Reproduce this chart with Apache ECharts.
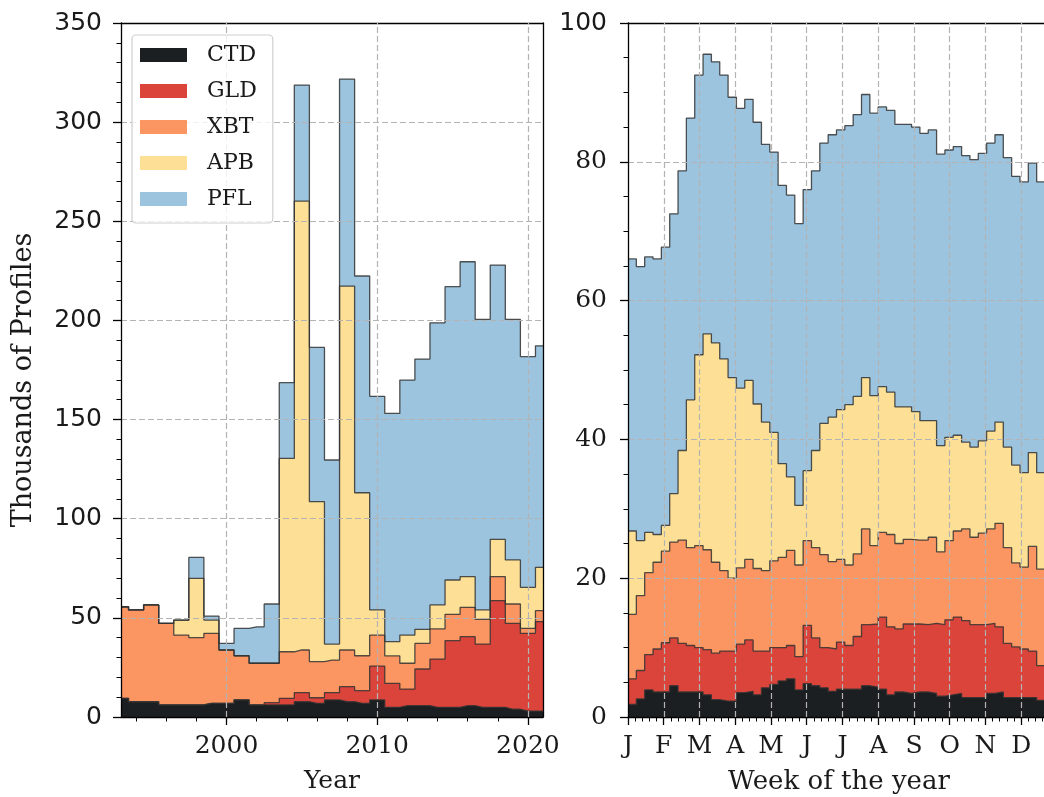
<!DOCTYPE html>
<html><head><meta charset="utf-8">
<script src="https://cdn.jsdelivr.net/npm/echarts@6/dist/echarts.min.js"></script>
<style>html,body{margin:0;padding:0;background:#fff}#c{width:1044px;height:797px}</style>
</head><body><div id="c"></div>
<script>
// ---------- data ----------
const seriesNames = ['CTD', 'GLD', 'XBT', 'APB', 'PFL'];

const years = [1993,1994,1995,1996,1997,1998,1999,2000,2001,2002,2003,2004,2005,2006,2007,2008,2009,2010,2011,2012,2013,2014,2015,2016,2017,2018,2019,2020,2021];
const yearCTD = [9.4,7.7,7.7,6.1,6.1,6.1,6.9,6.9,8.6,6.1,6.1,6.1,7.7,6.9,8.6,7.7,6.9,8.6,4.9,5.7,5.7,4.9,4.9,5.7,4.9,4.9,3.9,3.0,3.0];
const yearGLD = [0,0,0,0,0,0,0,0,0,0,1.1,3.3,4.6,2.8,3.7,7.6,6.4,17.1,12.1,8.4,18.5,24.3,33.6,34.8,31.9,53.8,43.3,39.2,45.1];
const yearXBT = [46.2,46.3,48.8,41.1,35.2,33.9,35.3,26.9,22.3,21.0,19.9,23.5,21.5,18.2,16.4,18.5,17.6,15.6,13.8,13.0,12.9,15.2,13.3,14.8,12.4,12.1,9.8,2.5,5.5];
const yearAPB = [0,0,0,0,7.6,29.9,6.7,0,0,0,0,97.5,226.4,80.7,8.1,183.5,82.2,12.7,7.2,14.2,7.1,12.1,17.3,15.5,4.8,18.8,22.2,20.7,21.9];
const yearPFL = [0,0,0,0,0,10.6,2.0,3.3,13.8,18.4,29.9,38.2,58.5,77.8,92.8,104.4,109.3,107.7,115.1,128.6,136.3,142.3,147.9,158.8,146.5,138.3,121.3,116.3,111.7];

// week-of-year bins (bin k covers week k .. k+1)
const weekCTD = [1.8,2.6,3.9,3.6,3.6,4.5,3.6,3.6,3.6,3.2,2.5,2.3,2.3,3.5,3.7,3.2,4.2,4.7,5.2,5.5,3.9,4.8,4.5,4.2,3.7,4.0,4.0,4.0,4.5,4.3,4.0,3.2,3.6,3.4,3.6,3.6,3.4,3.0,3.2,3.4,2.8,2.8,2.8,3.4,3.6,2.8,2.8,2.8,2.8,2.4];
const weekGLD = [3.7,4.1,5.1,6.2,7.1,6.9,7.0,6.7,6.4,6.5,6.7,7.2,7.2,7.0,7.4,6.3,5.3,5.3,4.8,4.8,4.8,8.4,6.9,5.8,6.1,6.8,6.3,7.6,8.8,9.1,10.4,9.8,9.1,10.0,9.8,9.7,10.1,10.3,10.8,11.0,11.1,10.5,10.5,10.1,9.4,7.8,7.3,7.0,6.7,5.0];
const weekXBT = [9.3,10.8,11.8,12.5,13.2,13.8,14.9,14.1,14.7,14.4,13.1,11.6,10.5,11.0,11.6,11.9,11.6,12.5,13.0,13.7,13.2,12.2,13.0,13.4,12.6,11.9,11.6,11.9,13.8,11.3,12.2,13.3,12.3,12.2,12.1,12.2,12.4,10.5,11.4,12.4,13.2,12.6,13.2,13.6,14.9,13.8,12.1,11.8,15.1,13.9];
const weekAPB = [12.0,7.9,5.8,4.0,3.7,7.0,12.9,21.3,27.5,31.1,31.6,30.5,28.9,25.9,25.8,23.7,21.4,18.5,13.5,10.6,8.6,10.1,14.0,18.9,20.8,21.6,23.1,22.7,21.8,21.6,21.0,20.5,19.7,19.1,18.5,17.2,16.8,15.3,14.9,13.8,12.5,13.0,13.3,14.1,14.6,14.5,14.1,13.6,13.5,13.9];
const weekPFL = [39.2,39.5,39.7,39.7,40.1,40.3,40.3,40.6,40.3,40.3,40.5,40.9,40.4,40.3,40.5,40.6,40.0,40.4,40.1,40.6,40.6,40.5,40.3,40.4,40.7,40.3,40.2,40.6,40.8,40.7,40.3,40.6,40.7,40.7,41.0,41.4,41.9,42.0,41.4,41.6,41.3,41.4,41.4,41.5,41.4,41.7,41.6,41.9,41.7,41.9];

const yearTicks = [2000, 2010, 2020];
const yearMinorTicks = [1994,1996,1998,2002,2004,2006,2008,2012,2014,2016,2018];
const monthLabels = ['J','F','M','A','M','J','J','A','S','O','N','D'];

// ---------- build ----------
const COLORS = {CTD:'#1c1f21', GLD:'#da443b', XBT:'#fb9663', APB:'#fde096', PFL:'#9cc4de'};
const yearVals = {CTD:yearCTD, GLD:yearGLD, XBT:yearXBT, APB:yearAPB, PFL:yearPFL};
const weekVals = {CTD:weekCTD, GLD:weekGLD, XBT:weekXBT, APB:weekAPB, PFL:weekPFL};
const weeks = weekCTD.map((_, i) => i);
const WEEK_MAX = 50.6;
const monthPos = monthLabels.map((_, i) => i * 30 / 7);
const monthMinor = [];
for (let k = 0; k * 6 / 7 <= WEEK_MAX; k++) monthMinor.push(k * 6 / 7);

// stacked tops (each layer drawn from 0 to its cumulative top; lower layers painted over upper ones)
function cumLayers(valsMap) {
  const out = {}; let run = null;
  seriesNames.forEach(n => {
    const v = valsMap[n];
    run = run ? run.map((r, i) => r + v[i]) : v.slice();
    out[n] = run;
  });
  return out;
}
const yearCum = cumLayers(yearVals);
const weekCum = cumLayers(weekVals);

const TXT = '#1a1a1a';
const SERIF = 'DejaVu Serif';
const SANS = 'DejaVu Sans';
const axisLine = {show:true, lineStyle:{color:'#000', width:1.3}};
const gridDash = {type:[6,3], color:'#b3b3b3', width:1.2};

function layer(name, data, step, xi, yi, marks) {
  const s = {
    type:'line', name, xAxisIndex:xi, yAxisIndex:yi, step, data,
    symbol:'none', showSymbol:false, color:COLORS[name],
    lineStyle:{color:'#333', width:1.3, opacity:0.85},
    areaStyle:{color:COLORS[name], opacity:1, origin:'start'},
    itemStyle:{color:COLORS[name]},
    emphasis:{disabled:true}, animation:false, z:2
  };
  if (marks) {
    s.markLine = {silent:true, symbol:['none','none'], label:{show:false}, lineStyle:gridDash,
      emphasis:{disabled:true}, animation:false, data: marks.map(v => ({xAxis:v}))};
  }
  return s;
}

const series = [];
const drawOrder = seriesNames.slice().reverse();
drawOrder.forEach((n, idx) => {
  const d = years.map((y, i) => [y, yearCum[n][i]]);
  series.push(layer(n, d, 'middle', 0, 0, idx === drawOrder.length - 1 ? yearTicks : null));
});
drawOrder.forEach((n, idx) => {
  const v = weekCum[n];
  const d = weeks.map((w, i) => [w, v[i]]);
  d.push([weeks[weeks.length - 1] + 1, v[v.length - 1]]);
  series.push(layer(n, d, 'end', 3, 2, idx === drawOrder.length - 1 ? monthPos.slice(1) : null));
});

const option = {
  backgroundColor:'#fff',
  animation:false,
  grid:[
    {left:121, top:23, width:422, height:694, containLabel:false, outerBoundsMode:'none'},
    {left:628, top:23, width:422, height:694, containLabel:false, outerBoundsMode:'none'}
  ],
  xAxis:[
    {gridIndex:0, type:'value', min:1993, max:2021, position:'bottom', z:3,
     axisLine, splitLine:{show:false},
     axisTick:{customValues:yearTicks, length:8, lineStyle:{color:'#000', width:1.3}},
     axisLabel:{customValues:yearTicks, fontFamily:SERIF, fontSize:25, color:TXT, margin:17,
       formatter: v => String(v)},
     name:'Year', nameLocation:'middle', nameGap:52,
     nameTextStyle:{fontFamily:SERIF, fontSize:25, color:TXT}},
    {gridIndex:0, type:'value', min:1993, max:2021, position:'bottom', z:3,
     axisLine:{show:false}, splitLine:{show:false}, axisLabel:{show:false},
     axisTick:{customValues:yearMinorTicks, length:4.5, lineStyle:{color:'#000', width:1}}},
    {gridIndex:0, type:'value', min:1993, max:2021, position:'top', z:3,
     axisLine, splitLine:{show:false}, axisLabel:{show:false}, axisTick:{show:false}},
    {gridIndex:1, type:'value', min:0, max:WEEK_MAX, position:'bottom', z:3,
     axisLine, splitLine:{show:false},
     axisTick:{customValues:monthPos, length:8, lineStyle:{color:'#000', width:1.3}},
     axisLabel:{customValues:monthPos, fontFamily:SERIF, fontSize:25, color:TXT, margin:17,
       formatter: v => monthLabels[Math.round(v * 7 / 30)]},
     name:'Week of the year', nameLocation:'middle', nameGap:52,
     nameTextStyle:{fontFamily:SERIF, fontSize:26, color:TXT}},
    {gridIndex:1, type:'value', min:0, max:WEEK_MAX, position:'bottom', z:3,
     axisLine:{show:false}, splitLine:{show:false}, axisLabel:{show:false},
     axisTick:{customValues:monthMinor, length:4.5, lineStyle:{color:'#000', width:1}}},
    {gridIndex:1, type:'value', min:0, max:WEEK_MAX, position:'top', z:3,
     axisLine, splitLine:{show:false}, axisLabel:{show:false}, axisTick:{show:false}}
  ],
  yAxis:[
    {gridIndex:0, type:'value', min:0, max:350, interval:50, position:'left', z:3,
     axisLine,
     axisTick:{show:true, length:8, lineStyle:{color:'#000', width:1.3}},
     minorTick:{show:true, splitNumber:5, length:4.5, lineStyle:{color:'#000', width:1}},
     axisLabel:{fontFamily:SANS, fontSize:25, color:TXT, margin:19},
     splitLine:{show:true, lineStyle:gridDash}},
    {gridIndex:0, type:'value', min:0, max:350, position:'right', z:3,
     axisLine, axisTick:{show:false}, axisLabel:{show:false}, splitLine:{show:false}},
    {gridIndex:1, type:'value', min:0, max:100, interval:20, position:'left', z:3,
     axisLine,
     axisTick:{show:true, length:8, lineStyle:{color:'#000', width:1.3}},
     minorTick:{show:true, splitNumber:4, length:4.5, lineStyle:{color:'#000', width:1}},
     axisLabel:{fontFamily:SERIF, fontSize:25, color:TXT, margin:21,
       formatter: v => v === 100 ? '{s|100}' : String(v),
       rich:{s:{fontFamily:SANS, fontSize:25, color:TXT}}},
     splitLine:{show:true, lineStyle:gridDash}}
  ],
  legend:{
    data: seriesNames.map(n => ({name:n, icon:'rect', itemStyle:{color:COLORS[n], borderWidth:0}})),
    orient:'vertical', left:132, top:35, itemWidth:47, itemHeight:14, itemGap:14,
    padding:[9,16,13,8], backgroundColor:'rgba(255,255,255,0.8)',
    borderColor:'#cfcfcf', borderWidth:1.2, borderRadius:4,
    textStyle:{fontFamily:SERIF, fontSize:22, color:TXT, padding:[0,0,0,15]},
    selectedMode:false, z:10
  },
  graphic:[
    {type:'text', x:24, y:380, rotation:Math.PI/2, z:10,
     style:{text:'Thousands of Profiles', fontFamily:SERIF, fontSize:27, fill:TXT, align:'center', verticalAlign:'middle'}}
  ],
  series
};

const chart = echarts.init(document.getElementById('c'), null, {renderer:'canvas'});
chart.setOption(option);
</script>
</body></html>
